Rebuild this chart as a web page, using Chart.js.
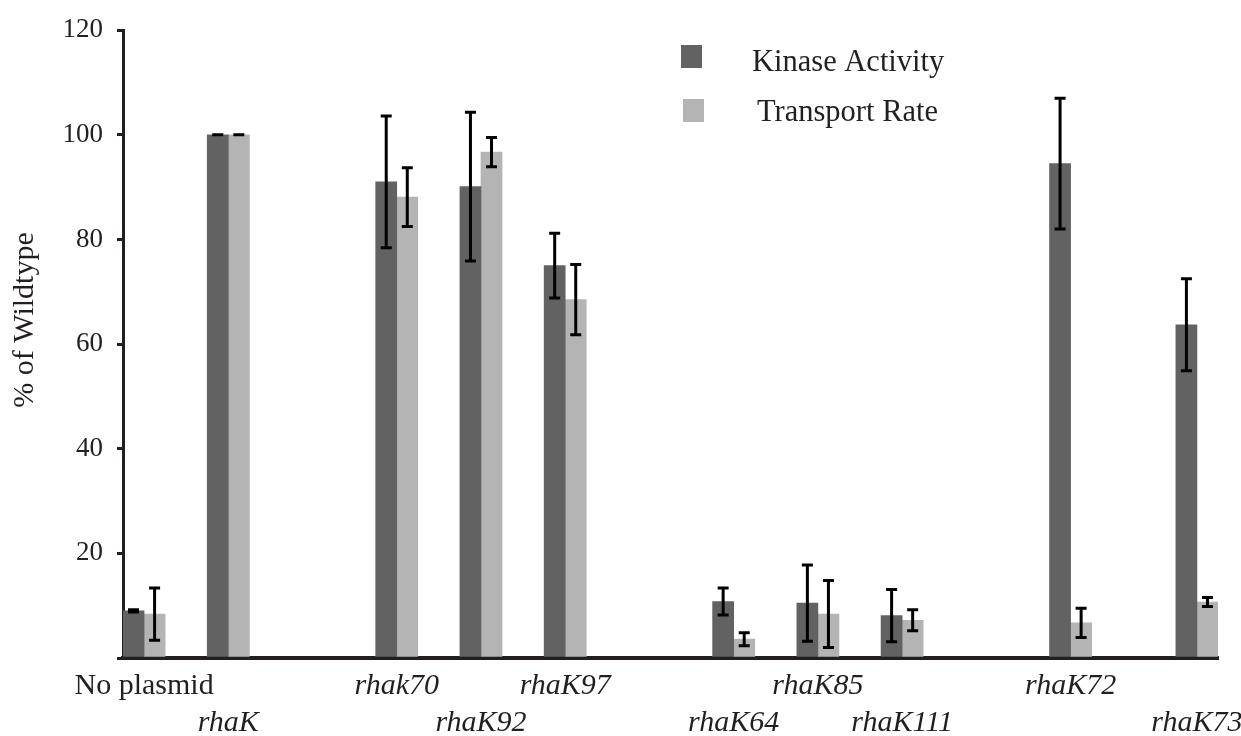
<!DOCTYPE html>
<html><head><meta charset="utf-8">
<script src="https://cdn.jsdelivr.net/npm/chart.js@4.4.0/dist/chart.umd.min.js"></script>
<style>html,body{margin:0;padding:0;background:#fff;overflow:hidden}#wrap{width:1241px;height:736px}</style>
</head><body><div id="wrap"><canvas id="c" width="1241" height="736"></canvas></div>
<script>
// ---- data ----
const categories   = ['No plasmid','rhaK','rhak70','rhaK92','rhaK97','rhaK64','rhaK85','rhaK111','rhaK72','rhaK73'];
const kinase       = [9.0, 100, 91.0, 90.1, 75.0, 10.8, 10.5, 8.1, 94.5, 63.7];
const kinaseErr    = [0.2, 0, 12.6, 14.2, 6.2, 2.6, 7.3, 5.0, 12.5, 8.8];
const transport    = [8.4, 100, 88.1, 96.7, 68.5, 3.6, 8.4, 7.2, 6.7, 10.7];
const transportErr = [5.0, 0, 5.6, 2.8, 6.7, 1.25, 6.4, 2.0, 2.8, 0.85];
const yTicks       = [0, 20, 40, 60, 80, 100, 120];
const seriesNames  = ['Kinase Activity', 'Transport Rate'];

// ---- layout (category slots on the axis, gaps left blank) ----
const slotOf = [0, 2, 6, 8, 10, 14, 16, 18, 22, 25];
const totalSlots = 26;

const DARK = '#626262', LIGHT = '#b4b4b4', INK = '#231f20';
const FONT = "'Liberation Serif', 'Times New Roman', serif";

function spread(values) {
  const out = new Array(totalSlots).fill(null);
  values.forEach((v, i) => { out[slotOf[i]] = v; });
  return out;
}
const labels = new Array(totalSlots).fill('');
categories.forEach((c, i) => { labels[slotOf[i]] = (i % 2 === 0) ? c : ['', c]; });

const errorBars = {
  id: 'errorBars',
  afterDatasetsDraw(chart) {
    const ctx = chart.ctx, ys = chart.scales.y;
    chart.data.datasets.forEach((ds, di) => {
      const meta = chart.getDatasetMeta(di);
      meta.data.forEach((bar, i) => {
        const v = ds.data[i], e = ds.errors[i];
        if (v == null || e == null) return;
        const x = bar.x;
        const yt = ys.getPixelForValue(v + e), yb = ys.getPixelForValue(v - e);
        ctx.save();
        ctx.strokeStyle = '#000'; ctx.lineWidth = 3; ctx.lineCap = 'butt';
        ctx.beginPath();
        ctx.moveTo(x, yt); ctx.lineTo(x, yb);
        ctx.moveTo(x - 5.5, yt); ctx.lineTo(x + 5.5, yt);
        ctx.moveTo(x - 5.5, yb); ctx.lineTo(x + 5.5, yb);
        ctx.stroke();
        ctx.restore();
      });
    });
  }
};

const decorations = {
  id: 'decorations',
  afterDraw(chart) {
    const ctx = chart.ctx;
    ctx.save();
    // legend
    ctx.fillStyle = DARK; ctx.fillRect(681, 45, 21, 23);
    ctx.fillStyle = LIGHT; ctx.fillRect(683, 99, 21, 23);
    ctx.fillStyle = INK;
    ctx.font = "30.5px " + FONT;
    ctx.textBaseline = 'middle'; ctx.textAlign = 'left';
    ctx.fillText(seriesNames[0], 752, 63);
    ctx.fillText(seriesNames[1], 757, 113);
    // y axis title
    ctx.font = "30px " + FONT;
    ctx.translate(25, 320);
    ctx.rotate(-Math.PI / 2);
    ctx.textAlign = 'center';
    ctx.fillText('% of Wildtype', 0, 0);
    ctx.restore();
  }
};

new Chart(document.getElementById('c'), {
  type: 'bar',
  data: {
    labels: labels,
    datasets: [
      { label: seriesNames[0], data: spread(kinase), errors: spread(kinaseErr), backgroundColor: DARK,
        categoryPercentage: 1, barPercentage: 1 },
      { label: seriesNames[1], data: spread(transport), errors: spread(transportErr), backgroundColor: LIGHT,
        categoryPercentage: 1, barPercentage: 1 }
    ]
  },
  options: {
    responsive: false, animation: false, devicePixelRatio: 1,
    layout: { padding: { top: 30, right: 23, left: 0, bottom: 0 } },
    plugins: { legend: { display: false }, tooltip: { enabled: false } },
    scales: {
      x: {
        grid: { display: true, drawOnChartArea: false, drawTicks: false },
        border: { display: true, color: INK, width: 4 },
        ticks: {
          autoSkip: false, maxRotation: 0, minRotation: 0, padding: 10, color: INK,
          font: (c) => ({ family: FONT, size: 30, lineHeight: 1.23,
                          style: (c.tick && c.tick.label === categories[0]) ? 'normal' : 'italic' })
        },
        afterFit(s) { s.height = 78; s.paddingLeft = 0; s.paddingRight = 0; }
      },
      y: {
        min: 0, max: 120,
        afterBuildTicks(s) { s.ticks = yTicks.map(v => ({ value: v })); },
        grid: { display: true, drawOnChartArea: false, drawTicks: true, tickLength: 6, color: INK, lineWidth: 3 },
        border: { display: true, color: INK, width: 3 },
        ticks: {
          padding: 14, color: INK, font: { family: FONT, size: 27 },
          callback: (v) => (v === 0 ? '' : String(v))
        },
        afterFit(s) { s.width = 123; }
      }
    }
  },
  plugins: [errorBars, decorations]
});
</script>
</body></html>
